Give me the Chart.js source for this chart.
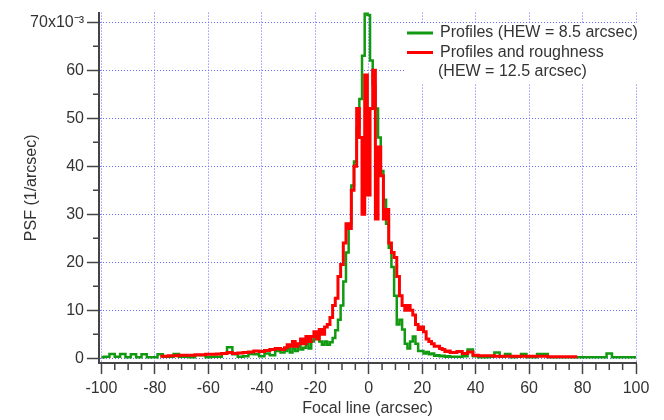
<!DOCTYPE html>
<html>
<head>
<meta charset="utf-8">
<script src="https://cdn.jsdelivr.net/npm/chart.js@4"></script>
<style>
  body { margin: 0; background: #fff; }
</style>
</head>
<body>
<canvas id="psfChart" width="664" height="420"></canvas>
<script>
// focal line positions (arcsec)
const focalX = [
  -100, -98, -96, -94, -92, -90, -88, -86, -84, -82, -80, -78, -76, -74, -72, -70, -68, -66,
  -64, -62, -60, -58, -56, -54, -52, -50, -48, -46, -44, -42, -40, -38, -36, -34, -32,
  -31, -30, -29, -28, -27, -26, -25, -24, -23, -22, -21, -20, -19, -18, -17, -16, -15, -14,
  -13, -12, -11, -10, -9, -8, -7, -6, -5, -4, -3, -2, -1, 0, 1, 2, 3, 4, 5, 6, 7, 8, 9, 10,
  11, 12, 13, 14, 15, 16, 17, 18, 19, 20, 21, 22, 23, 24, 25, 26, 27, 28, 29, 30, 31,
  32, 34, 36, 38, 40, 42, 44, 46, 48, 50, 52, 54, 56, 58, 60, 62, 64, 66, 68, 70,
  72, 74, 76, 78, 80, 82, 84, 86, 88, 90, 92, 94, 96, 98, 100,
];

// PSF x 10^-3, profiles only
const profiles = [
  0.2, 0.3, 0.9, 0.3, 0.9, 0.2, 0.8, 0.2, 0.8, 0.2, 0.2, 0.8, 0.3, 0.3, 0.9, 0.3, 0.3, 0.2,
  0.6, 0.6, 0.2, 0.3, 0.3, 1.0, 2.3, 0.8, 0.3, 0.4, 0.9, 0.8, 0.4, 1.0, 0.6, 1.5, 1.2,
  1.5, 2.0, 1.2, 2.0, 1.5, 2.5, 1.8, 2.2, 3.0, 2.0, 3.5, 4.5, 5.2, 3.5, 2.8, 3.5, 2.8, 3.3,
  4.2, 5.8, 8.0, 11, 16, 22, 28, 36, 41, 48, 54, 63, 72, 71.5, 62, 57, 52, 46, 39, 33, 28, 23, 19, 13,
  7, 8, 6, 3, 2, 3.5, 4.5, 3, 1.5, 1.5, 1.0, 1.3, 0.8, 1.0, 0.5, 0.6, 0.4, 0.5, 0.3, 0.4, 0.3,
  0.3, 0.3, 0.4, 1.8, 0.4, 0.2, 0.2, 0.3, 1.2, 0.3, 0.9, 0.2, 0.3, 0.9, 0.2, 0.2, 0.9, 0.9, 0.2, 0.2,
  0.2, 0.2, 0.2, 0.2, 0.2, 0.2, 0.2, 0.2, 0.2, 1.0, 0.2, 0.2, 0.2, 0.2, 0.2,
];

// PSF x 10^-3, profiles and roughness
const roughness = [
  null, null, null, null, null, null, null, null, null, null, null, 0.4, 0.4, 0.5, 0.5, 0.6, 0.6, 0.6,
  0.7, 0.7, 0.8, 0.8, 0.9, 1.0, 1.2, 1.0, 1.1, 1.2, 1.3, 1.5, 1.4, 1.6, 1.8, 2.0, 1.8,
  2.2, 2.8, 2.5, 3.5, 2.5, 3.0, 4.0, 3.0, 4.5, 3.5, 4.5, 5.5, 4.0, 6.0, 5.0, 6.5, 7.0, 8.5,
  11, 12.5, 17, 19.5, 24, 28, 27, 35, 40, 52, 46, 30, 59, 34, 52, 60, 29, 44, 38, 29, 31, 24, 22, 21,
  17, 13, 11, 10, 11, 10, 9, 7, 6, 6.5, 5.5, 4.0, 3.5, 3.0, 2.5, 2.5, 2.0, 1.8, 1.4, 1.5, 1.2,
  1.2, 1.4, 1.0, 1.3, 0.6, 0.5, 0.5, 0.5, 0.4, 0.4, 0.4, 0.4, 0.4, 0.4, 0.4, 0.4, 0.4, 0.4, 0.3, 0.3,
  0.3, 0.3, 0.3, 0.3, null, null, null, null, null, null, null, null, null, null, null,
];

const xTicks = [-100, -80, -60, -40, -20, 0, 20, 40, 60, 80, 100];
const yTicks = [0, 10, 20, 30, 40, 50, 60, 70];

const legendRows = [
  { text: "Profiles (HEW = 8.5 arcsec)", color: "#129912" },
  { text: "Profiles and roughness", color: "#ff0000" },
  { text: "(HEW = 12.5 arcsec)", color: null },
];

const FONT = "'Liberation Sans', Arial, sans-serif";
const INK = "#333";
const AXIS = "#444";
const GRID = "#6a6aff";

// minor ticks + legend box
const extras = {
  id: "extras",
  afterDraw(chart) {
    const { ctx, chartArea, scales } = chart;
    ctx.save();
    ctx.strokeStyle = AXIS;
    ctx.lineWidth = 1.5;
    ctx.beginPath();
    for (let v = -95; v < 100; v += 5) {
      if (v % 20 === 0) continue;
      const px = scales.x.getPixelForValue(v);
      ctx.moveTo(px, chartArea.bottom);
      ctx.lineTo(px, chartArea.bottom + 7);
    }
    for (let v = 5; v < 70; v += 10) {
      const py = scales.y.getPixelForValue(v);
      ctx.moveTo(chartArea.left - 6, py);
      ctx.lineTo(chartArea.left, py);
    }
    ctx.stroke();

    // legend
    ctx.fillStyle = "#fff";
    ctx.fillRect(404, 23, 260, 60);
    ctx.font = "16px " + FONT;
    ctx.textBaseline = "middle";
    legendRows.forEach((row, i) => {
      const y = 33 + i * 19.5;
      if (row.color) {
        ctx.strokeStyle = row.color;
        ctx.lineWidth = 3;
        ctx.beginPath();
        ctx.moveTo(407, y);
        ctx.lineTo(433, y);
        ctx.stroke();
      }
      ctx.fillStyle = INK;
      ctx.fillText(row.text, row.color ? 440 : 438, y);
    });
    ctx.restore();
  },
};

new Chart(document.getElementById("psfChart"), {
  type: "line",
  data: {
    datasets: [
      {
        label: legendRows[0].text,
        data: focalX.map((x, i) => ({ x: x, y: profiles[i] })),
        borderColor: legendRows[0].color,
        borderWidth: 2.5,
        stepped: "middle",
        pointRadius: 0,
        order: 2,
      },
      {
        label: legendRows[1].text,
        data: focalX.map((x, i) => ({ x: x, y: roughness[i] })).filter((p) => p.y !== null),
        borderColor: legendRows[1].color,
        borderWidth: 3,
        stepped: "middle",
        pointRadius: 0,
        order: 1,
      },
    ],
  },
  options: {
    responsive: false,
    animation: false,
    layout: { padding: { top: 10, right: 28, left: 0, bottom: 0 } },
    plugins: {
      legend: { display: false },
      tooltip: { enabled: false },
    },
    scales: {
      x: {
        type: "linear",
        min: -100.9,
        max: 100,
        afterBuildTicks: (s) => {
          s.ticks = xTicks.map((v) => ({ value: v }));
        },
        afterFit: (s) => {
          s.height = 57;
        },
        grid: {
          color: GRID,
          lineWidth: 1,
          tickColor: AXIS,
          tickWidth: 1.5,
          tickLength: 11,
          tickBorderDash: [],
        },
        border: { color: AXIS, width: 2, dash: [1, 2] },
        ticks: {
          color: INK,
          font: { family: FONT, size: 16 },
          padding: 5,
          maxRotation: 0,
          autoSkip: false,
        },
        title: {
          display: true,
          text: "Focal line (arcsec)",
          color: INK,
          font: { family: FONT, size: 16 },
          padding: { bottom: 2 },
        },
      },
      y: {
        type: "linear",
        min: -1,
        max: 72,
        afterBuildTicks: (s) => {
          s.ticks = yTicks.map((v) => ({ value: v }));
        },
        afterFit: (s) => {
          s.width = 99;
        },
        grid: {
          color: GRID,
          lineWidth: 1,
          tickColor: AXIS,
          tickWidth: 1.5,
          tickLength: 12,
          tickBorderDash: [],
        },
        border: { color: AXIS, width: 2, dash: [1, 2] },
        ticks: {
          color: INK,
          font: { family: FONT, size: 16 },
          padding: 3,
          callback: (v) => (v === 70 ? "70x10\u207B\u00B3" : v),
        },
        title: {
          display: true,
          text: "PSF (1/arcsec)",
          color: INK,
          font: { family: FONT, size: 16 },
          padding: { top: 22 },
        },
      },
    },
  },
  plugins: [extras],
});
</script>
</body>
</html>
